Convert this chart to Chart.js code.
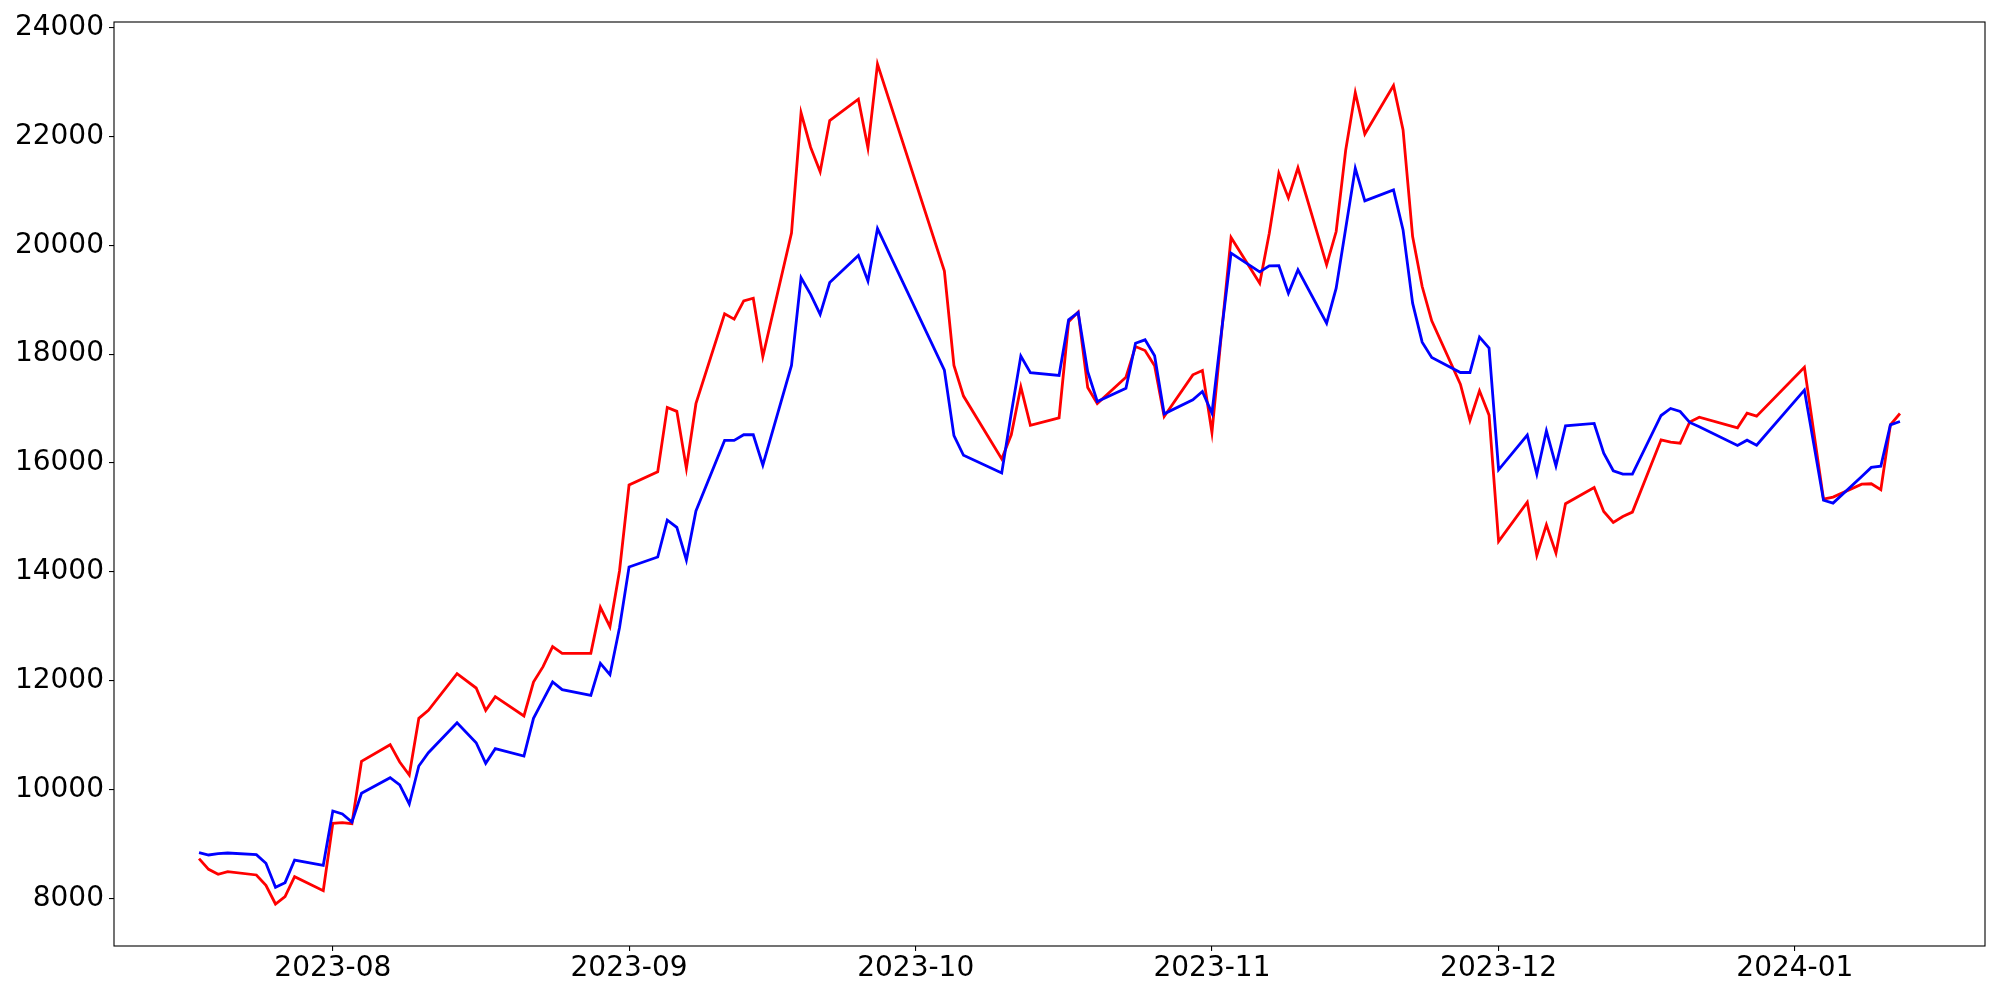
<!DOCTYPE html>
<html>
<head>
<meta charset="utf-8">
<script src="https://cdn.jsdelivr.net/npm/chart.js@4.4.1/dist/chart.umd.min.js"></script>
<style>
  html, body { margin:0; padding:0; background:#fff; }
  #wrap { width:2000px; height:1000px; }
</style>
</head>
<body>
<div id="wrap"><canvas id="c" width="2000" height="1000"></canvas></div>
<script>
// ==== data (trading days) ====
const DATES = [
  '2023-07-18','2023-07-19','2023-07-20','2023-07-21','2023-07-24','2023-07-25','2023-07-26','2023-07-27','2023-07-28','2023-07-31',
  '2023-08-01','2023-08-02','2023-08-03','2023-08-04','2023-08-07','2023-08-08','2023-08-09','2023-08-10','2023-08-11','2023-08-14',
  '2023-08-16','2023-08-17','2023-08-18','2023-08-21','2023-08-22','2023-08-23','2023-08-24','2023-08-25','2023-08-28','2023-08-29',
  '2023-08-30','2023-08-31','2023-09-01','2023-09-04','2023-09-05','2023-09-06','2023-09-07','2023-09-08','2023-09-11','2023-09-12',
  '2023-09-13','2023-09-14','2023-09-15','2023-09-18','2023-09-19','2023-09-20','2023-09-21','2023-09-22','2023-09-25','2023-09-26',
  '2023-09-27','2023-10-04','2023-10-05','2023-10-06','2023-10-10','2023-10-11','2023-10-12','2023-10-13','2023-10-16','2023-10-17',
  '2023-10-18','2023-10-19','2023-10-20','2023-10-23','2023-10-24','2023-10-25','2023-10-26','2023-10-27','2023-10-30','2023-10-31',
  '2023-11-01','2023-11-02','2023-11-03','2023-11-06','2023-11-07','2023-11-08','2023-11-09','2023-11-10','2023-11-13','2023-11-14',
  '2023-11-15','2023-11-16','2023-11-17','2023-11-20','2023-11-21','2023-11-22','2023-11-23','2023-11-24','2023-11-27','2023-11-28',
  '2023-11-29','2023-11-30','2023-12-01','2023-12-04','2023-12-05','2023-12-06','2023-12-07','2023-12-08','2023-12-11','2023-12-12',
  '2023-12-13','2023-12-14','2023-12-15','2023-12-18','2023-12-19','2023-12-20','2023-12-21','2023-12-22','2023-12-26','2023-12-27',
  '2023-12-28','2024-01-02','2024-01-03','2024-01-04','2024-01-05','2024-01-08','2024-01-09','2024-01-10','2024-01-11','2024-01-12'
];

const RED_VALUES = [
  8734, 8538, 8446, 8495, 8434, 8244, 7901, 8036, 8403, 8146,
  9383, 9395, 9376, 10521, 10827, 10509, 10270, 11311, 11458, 12131,
  11868, 11458, 11709, 11354, 11978, 12260, 12627, 12505, 12505, 13349,
  12994, 14017, 15596, 15841, 17022, 16949, 15902, 17090, 18740, 18642,
  18978, 19027, 17956, 20225, 22432, 21801, 21352, 22290, 22684, 21787,
  23329, 19526, 17794, 17230, 16075, 16518, 17400, 16693, 16829, 18595,
  18772, 17386, 17091, 17577, 18140, 18067, 17785, 16855, 17620, 17700,
  16561, 18385, 20141, 19303, 20221, 21323, 20870, 21421, 19640, 20252,
  21751, 22804, 22045, 22932, 22118, 20160, 19242, 18611, 17449, 16782,
  17326, 16880, 14560, 15282, 14303, 14866, 14346, 15252, 15552, 15111,
  14909, 15019, 15099, 16427, 16384, 16365, 16755, 16843, 16647, 16916,
  16861, 17761, 16549, 15337, 15374, 15613, 15619, 15509, 16702, 16910
];

const BLUE_VALUES = [
  8844, 8801, 8826, 8838, 8807, 8648, 8207, 8293, 8709, 8611,
  9609, 9554, 9407, 9934, 10221, 10087, 9738, 10436, 10680, 11231,
  10864, 10484, 10754, 10619, 11311, 11647, 11978, 11837, 11733, 12321,
  12113, 12976, 14090, 14274, 14953, 14818, 14219, 15119, 16416, 16416,
  16520, 16520, 15963, 17794, 19403, 19098, 18731, 19315, 19811, 19342,
  20306, 17705, 16503, 16143, 15817, 16916, 17966, 17658, 17610, 18629,
  18765, 17676, 17130, 17375, 18201, 18263, 17969, 16904, 17161, 17314,
  16916, 18415, 19854, 19511, 19621, 19627, 19119, 19548, 18569, 19211,
  20313, 21414, 20815, 21017, 20282, 18936, 18220, 17938, 17663, 17663,
  18312, 18110, 15876, 16512, 15796, 16592, 15949, 16684, 16727, 16182,
  15858, 15796, 15796, 16873, 17002, 16947, 16745, 16665, 16323, 16420,
  16329, 17340, 16329, 15316, 15264, 15753, 15919, 15943, 16702, 16763
];

const X_TICK_LABELS = ['2023-08','2023-09','2023-10','2023-11','2023-12','2024-01'];
const Y_TICKS = [8000, 10000, 12000, 14000, 16000, 18000, 20000, 22000, 24000];

// ==== helpers ====
const toDay = (s) => { const [y,m,d] = s.split('-').map(Number); return Date.UTC(y, m-1, d||1) / 86400000; };
const xs = DATES.map(toDay);
const redPts  = xs.map((x,i)=>({ x, y: RED_VALUES[i] }));
const bluePts = xs.map((x,i)=>({ x, y: BLUE_VALUES[i] }));

// matplotlib風の5%マージン
const xSpan = xs[xs.length-1] - xs[0];
const X_MIN = xs[0] - xSpan*0.05, X_MAX = xs[xs.length-1] + xSpan*0.05;
const allY = RED_VALUES.concat(BLUE_VALUES);
const yLo = Math.min(...allY), yHi = Math.max(...allY);
const Y_MIN = yLo - (yHi-yLo)*0.05, Y_MAX = yHi + (yHi-yLo)*0.05;

const tickLabelByDay = new Map(X_TICK_LABELS.map(l => [toDay(l+'-01'), l]));

/* ===== 枠線 ===== */
const framePlugin = {
  id:'frame',
  afterDraw(c){
    const { ctx, chartArea:a } = c;
    ctx.save();
    ctx.strokeStyle = '#000';
    ctx.lineWidth = 1.1;
    ctx.strokeRect(a.left, a.top, a.right-a.left, a.bottom-a.top);
    ctx.restore();
  }
};

const FONT = { family:'"DejaVu Sans", sans-serif', size:28 };

new Chart(document.getElementById('c').getContext('2d'), {
  type:'line',
  data:{
    datasets:[
      { label:'red',  data:redPts,  borderColor:'#ff0000', borderWidth:2.8, pointRadius:0, tension:0, fill:false, order:1 },
      { label:'blue', data:bluePts, borderColor:'#0000ff', borderWidth:2.8, pointRadius:0, tension:0, fill:false, order:0 }
    ]
  },
  options:{
    responsive:false,
    animation:false,
    layout:{ padding:{ top:22, right:15, left:0, bottom:0 } },
    plugins:{ legend:{ display:false }, tooltip:{ enabled:false } },
    scales:{
      x:{
        type:'linear', min:X_MIN, max:X_MAX,
        afterFit(s){ s.height = 54; },
        afterBuildTicks(s){ s.ticks = X_TICK_LABELS.map(l => ({ value: toDay(l+'-01') })); },
        grid:{ drawOnChartArea:false, drawTicks:true, tickLength:5, color:'#000', lineWidth:1.1 },
        border:{ display:false },
        ticks:{ autoSkip:false, maxRotation:0, minRotation:0, padding:1, color:'#000', font:FONT,
                callback:(v)=> tickLabelByDay.get(v) || '' }
      },
      y:{
        type:'linear', min:Y_MIN, max:Y_MAX,
        afterFit(s){ s.width = 114; },
        afterBuildTicks(s){ s.ticks = Y_TICKS.map(v => ({ value:v })); },
        grid:{ drawOnChartArea:false, drawTicks:true, tickLength:5, color:'#000', lineWidth:1.1 },
        border:{ display:false },
        ticks:{ padding:5, color:'#000', font:FONT, callback:(v)=> String(v) }
      }
    }
  },
  plugins:[framePlugin]
});
</script>
</body>
</html>
